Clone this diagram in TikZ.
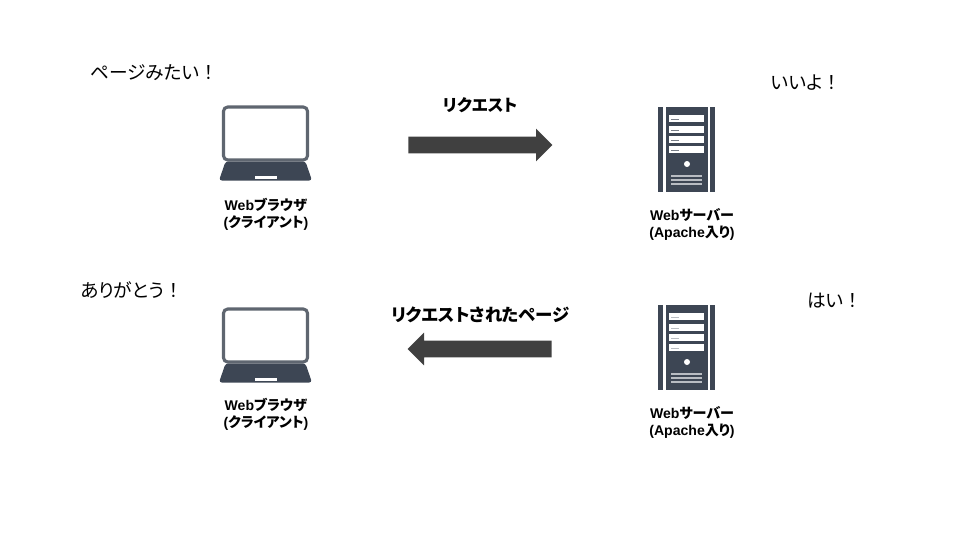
\documentclass[tikz,border=0pt]{standalone}
\usepackage{fontspec}
\setmainfont{Noto Sans CJK JP}[RawFeature={+palt}]
\newfontfamily\latinfont{Liberation Sans}
\newfontfamily\widefont{Noto Sans CJK JP}
\usetikzlibrary{shapes.arrows}
\definecolor{icondark}{HTML}{3D4654}
\definecolor{icongray}{HTML}{5F6670}
\definecolor{arrowgray}{HTML}{404040}
\definecolor{linelight}{HTML}{B8BCC2}
\tikzset{
    saytext/.style={font=\fontsize{13.3pt}{15pt}\selectfont, inner sep=0pt, anchor=west},
    titletext/.style={font=\fontsize{11.8pt}{14pt}\selectfont\bfseries, inner sep=0pt},
    icontext/.style={font=\fontsize{10pt}{12.1pt}\selectfont\bfseries, align=center, inner sep=0pt},
    bigarrow/.style={single arrow, fill=arrowgray, inner xsep=0pt, inner ysep=8*0.025cm, anchor=tail,
        minimum height=144*0.025cm, single arrow head extend=8*0.025cm, single arrow head indent=0pt},
    laptop/.pic={
        \draw[icongray, line width=2.2pt, rounded corners=3pt, fill=white] (-42,-51.5) rectangle (42,1.5);
        \fill[icondark, rounded corners=2pt] (-40,3) -- (40,3) -- (46.5,22) -- (-46.5,22) -- cycle;
        \fill[white] (-11,17) rectangle (11,20);
    },
    pics/server/.style={code={
        \fill[icondark] (-29,0) rectangle (-24,85);
        \fill[icondark] (-21,0) rectangle (21,85);
        \fill[icondark] (23,0) rectangle (28,85);
        \foreach \y in {8,19,29,39} {
            \fill[white] (-18,\y) rectangle (17,\y+7);
            \fill[#1] (-16,\y+4) rectangle (-8,\y+5.2);
        }
        \fill[white] (0,57) circle (3);
        \foreach \y in {69,73,77} {
            \fill[linelight] (-16,\y-0.7) rectangle (15,\y+0.7);
        }
    }}
}
\newcommand{\weblabel}[2]{{\latinfont Web}#1\\#2}
\newcommand{\bang}{{\widefont ！}}
\begin{document}
\begin{tikzpicture}[x=0.025cm, y=-0.025cm]
    \useasboundingbox (0,0) rectangle (960,540);

    % Request row
    \pic (laptopa) at (265.5,158.5) {laptop};
    \pic (servera) at (687,107) {server=icondark!70!white};
    \node[icontext] (labelclienta) at (266,214) {\weblabel{ブラウザ}{{\latinfont(}クライアント{\latinfont)}}};
    \node[icontext] (labelservera) at (692,224) {\weblabel{サーバー}{{\latinfont(Apache}入り{\latinfont)}}};
    \node[saytext] (saypage) at (90,73) {ページみたい\bang};
    \node[saytext] (sayok) at (771,83) {いいよ\bang};
    \node[titletext] (titlerequest) at (480,105) {リクエスト};
    \node[bigarrow] (arrowrequest) at (408,145) {};

    % Response row
    \pic (laptopb) at (265.5,360.5) {laptop};
    \pic (serverb) at (687,305) {server=linelight};
    \node[icontext] (labelclientb) at (266,414) {\weblabel{ブラウザ}{{\latinfont(}クライアント{\latinfont)}}};
    \node[icontext] (labelserverb) at (692,422) {\weblabel{サーバー}{{\latinfont(Apache}入り{\latinfont)}}};
    \node[saytext] (saythanks) at (80,290) {ありがとう\bang};
    \node[saytext] (sayyes) at (807,301) {はい\bang};
    \node[titletext, font=\fontsize{12.4pt}{14pt}\selectfont\bfseries] (titleresponse) at (480.5,315) {リクエストされたページ};
    \node[bigarrow, shape border rotate=180] (arrowresponse) at (552,349) {};
\end{tikzpicture}
\end{document}
